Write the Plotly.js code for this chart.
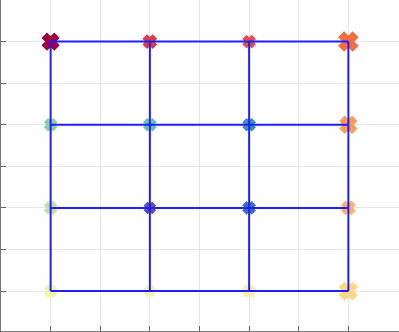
<!DOCTYPE html>
<html><head><meta charset="utf-8">
<script src="https://cdn.plot.ly/plotly-3.0.1.min.js"></script>
<style>html,body{margin:0;padding:0;background:#fff;}#c{width:399px;height:332px;}</style>
</head><body><div id="c"></div>
<script>
var xs = [1,2,3,4, 1,2,3,4, 1,2,3,4, 1,2,3,4];
var ys = [4,4,4,4, 3,3,3,3, 2,2,2,2, 1,1,1,1];
var sizes = [13,10,9,15, 9,9,9,13, 9,8,9,10, 9,8,9,14];
var colors = ['#9e0142','#d53e4f','#e2514a','#f46d43',
              '#8ccfa2','#66c2a5','#3c8dbb','#fb9c5a',
              '#bfe4a0','#5e4fa2','#3b6fb6','#fdb26a',
              '#eef6a6','#f1f5b0','#f8eeb0','#fed884'];
var gridVals = [1,2,3,4];

// grid line path built from grid values with null breaks
var lx = [], ly = [];
gridVals.forEach(function(r){ gridVals.forEach(function(c){ lx.push(c); ly.push(r); }); lx.push(null); ly.push(null); });
gridVals.forEach(function(c){ gridVals.forEach(function(r){ lx.push(c); ly.push(r); }); lx.push(null); ly.push(null); });

var traces = [
  {x: xs, y: ys, mode: 'markers', type: 'scatter',
   marker: {symbol: 'x', size: sizes, color: colors, opacity: 1, line: {width: 2.5, color: colors}}, hoverinfo: 'none'},
  {x: lx, y: ly, mode: 'lines', type: 'scatter', connectgaps: false,
   line: {color: 'rgb(30,30,255)', width: 2}, hoverinfo: 'none'}
];
var ax = {dtick: 0.5, tick0: 0.5, showticklabels: false, ticks: 'inside', ticklen: 5,
  tickcolor: '#666', showline: true, linecolor: '#777', linewidth: 1.5, showgrid: true,
  gridcolor: '#e6e6e6', gridwidth: 1, zeroline: false, mirror: false};
var layout = {
  width: 399, height: 332, showlegend: false,
  margin: {l: 1, r: 0, t: 0, b: 1, pad: 0},
  paper_bgcolor: '#fff', plot_bgcolor: '#fff',
  xaxis: Object.assign({}, ax, {range: [0.5, 4.51]}),
  yaxis: Object.assign({}, ax, {range: [0.52, 4.5]})
};
Plotly.newPlot('c', traces, layout, {staticPlot: true, displayModeBar: false});
</script></body></html>
